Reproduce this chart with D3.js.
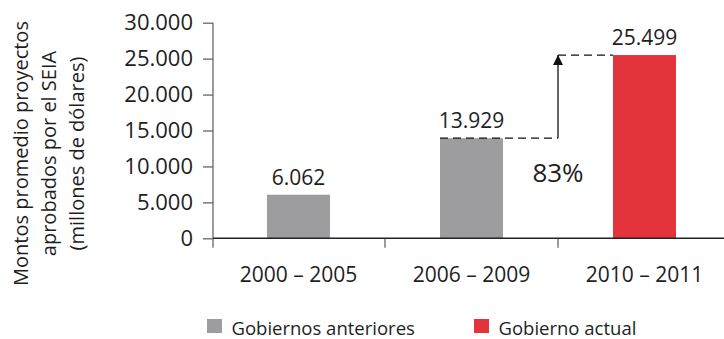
<!DOCTYPE html>
<html>
<head>
<meta charset="utf-8">
<script src="https://cdn.jsdelivr.net/npm/d3@7"></script>
<style>
  html, body { margin: 0; padding: 0; background: #fff; }
  svg { display: block; font-family: "Open Sans", sans-serif; }
</style>
</head>
<body>
<svg id="chart" width="724" height="339"></svg>
<script>
// Periods and average approved amounts (USD millions)
const categories = ["2000 – 2005", "2006 – 2009", "2010 – 2011"];
const values = [6062, 13929, 25499];
const groups = ["anteriores", "anteriores", "actual"];
const yTicks = [0, 5000, 10000, 15000, 20000, 25000, 30000];
const legendLabels = ["Gobiernos anteriores", "Gobierno actual"];
const growthLabel = "83%";
const yTitle = ["Montos promedio proyectos", "aprobados por el SEIA", "(millones de dólares)"];

const colors = { anteriores: "#9d9d9f", actual: "#e3343c" };
const fmt = d3.formatLocale({ decimal: ",", thousands: ".", grouping: [3], currency: ["$", ""] }).format(",d");

const svg = d3.select("#chart");
const plotLeft = 213, plotTop = 22.7, plotBottom = 238.3;

const x = d3.scaleBand().domain(categories).range([212, 731])
  .paddingInner(0.636).paddingOuter(0.318);
const y = d3.scaleLinear().domain([0, 30000]).range([plotBottom, plotTop]);
const step = x.step();
const bandStart = x.range()[0];

// Y axis
const yAxis = svg.append("g").attr("transform", `translate(${plotLeft},0)`)
  .call(d3.axisLeft(y).tickValues(yTicks).tickFormat(fmt).tickSize(10).tickPadding(10));
yAxis.select(".domain").remove();
yAxis.selectAll(".tick line").attr("stroke", "#666").attr("stroke-width", 1.3);
yAxis.selectAll(".tick text").attr("font-size", 22).attr("fill", "#1e1e1e")
  .attr("font-family", "Open Sans, sans-serif");
svg.append("line").attr("x1", plotLeft).attr("x2", plotLeft).attr("y1", plotTop).attr("y2", plotBottom + 9.5)
  .attr("stroke", "#666").attr("stroke-width", 1.3);

// Category boundary ticks
svg.selectAll("line.sep").data(d3.range(1, categories.length)).join("line")
  .attr("class", "sep")
  .attr("x1", i => bandStart + i * step).attr("x2", i => bandStart + i * step)
  .attr("y1", plotBottom).attr("y2", plotBottom + 9.5)
  .attr("stroke", "#666").attr("stroke-width", 1.3);

// Bars
svg.selectAll("rect.bar").data(categories).join("rect")
  .attr("class", "bar")
  .attr("x", c => x(c)).attr("width", x.bandwidth())
  .attr("y", (c, i) => y(values[i])).attr("height", (c, i) => y(0) - y(values[i]))
  .attr("fill", (c, i) => colors[groups[i]]);

// X axis baseline
svg.append("line").attr("x1", plotLeft).attr("x2", 724).attr("y1", plotBottom).attr("y2", plotBottom)
  .attr("stroke", "#222").attr("stroke-width", 1.4);

// Value labels
svg.selectAll("text.val").data(categories).join("text")
  .attr("class", "val")
  .attr("x", c => x(c) + x.bandwidth() / 2).attr("y", (c, i) => y(values[i]) - 10)
  .attr("text-anchor", "middle").attr("font-size", 21).attr("fill", "#1e1e1e")
  .text((c, i) => fmt(values[i]));

// Category labels
svg.selectAll("text.cat").data(categories).join("text")
  .attr("class", "cat")
  .attr("x", c => x(c) + x.bandwidth() / 2).attr("y", 281.5)
  .attr("text-anchor", "middle").attr("font-size", 21).attr("fill", "#1e1e1e")
  .text(c => c);

// Growth annotation between the last two periods
const arrowX = bandStart + 2 * step;
svg.append("defs").append("marker")
  .attr("id", "head").attr("viewBox", "0 0 10 10").attr("refX", 10).attr("refY", 5)
  .attr("markerWidth", 10).attr("markerHeight", 10).attr("markerUnits", "userSpaceOnUse")
  .attr("orient", "auto")
  .append("path").attr("d", "M0,0 L10,5 L0,10 Z").attr("fill", "#111");

svg.append("line")
  .attr("x1", x(categories[1])).attr("x2", arrowX)
  .attr("y1", y(values[1])).attr("y2", y(values[1]))
  .attr("stroke", "#111").attr("stroke-width", 1.3).attr("stroke-dasharray", "8,5");
svg.append("line")
  .attr("x1", arrowX).attr("x2", x(categories[2]))
  .attr("y1", y(values[2])).attr("y2", y(values[2]))
  .attr("stroke", "#111").attr("stroke-width", 1.3).attr("stroke-dasharray", "8,5");
svg.append("line")
  .attr("x1", arrowX).attr("x2", arrowX)
  .attr("y1", y(values[1])).attr("y2", y(values[2]))
  .attr("stroke", "#111").attr("stroke-width", 1.3)
  .attr("marker-end", "url(#head)");

svg.append("text")
  .attr("x", arrowX).attr("y", y(values[1]) + 44)
  .attr("text-anchor", "middle").attr("font-size", 26).attr("fill", "#1e1e1e")
  .text(growthLabel);

// Y axis title
const title = svg.append("text")
  .attr("transform", "translate(0,153.5) rotate(-90)")
  .attr("text-anchor", "middle").attr("font-size", 20).attr("fill", "#1e1e1e");
title.selectAll("tspan").data(yTitle).join("tspan")
  .attr("x", 0).attr("y", (d, i) => 28 + i * 28)
  .text(d => d);

// Legend
const legendX = [207, 474];
const legend = svg.selectAll("g.leg").data(legendLabels).join("g")
  .attr("class", "leg")
  .attr("transform", (d, i) => `translate(${legendX[i]},319)`);
legend.append("rect").attr("width", 15).attr("height", 14)
  .attr("fill", (d, i) => colors[i === 0 ? "anteriores" : "actual"]);
legend.append("text").attr("x", 24.5).attr("y", 15.5)
  .attr("font-size", 18.5).attr("fill", "#1e1e1e").text(d => d);
</script>
</body>
</html>
